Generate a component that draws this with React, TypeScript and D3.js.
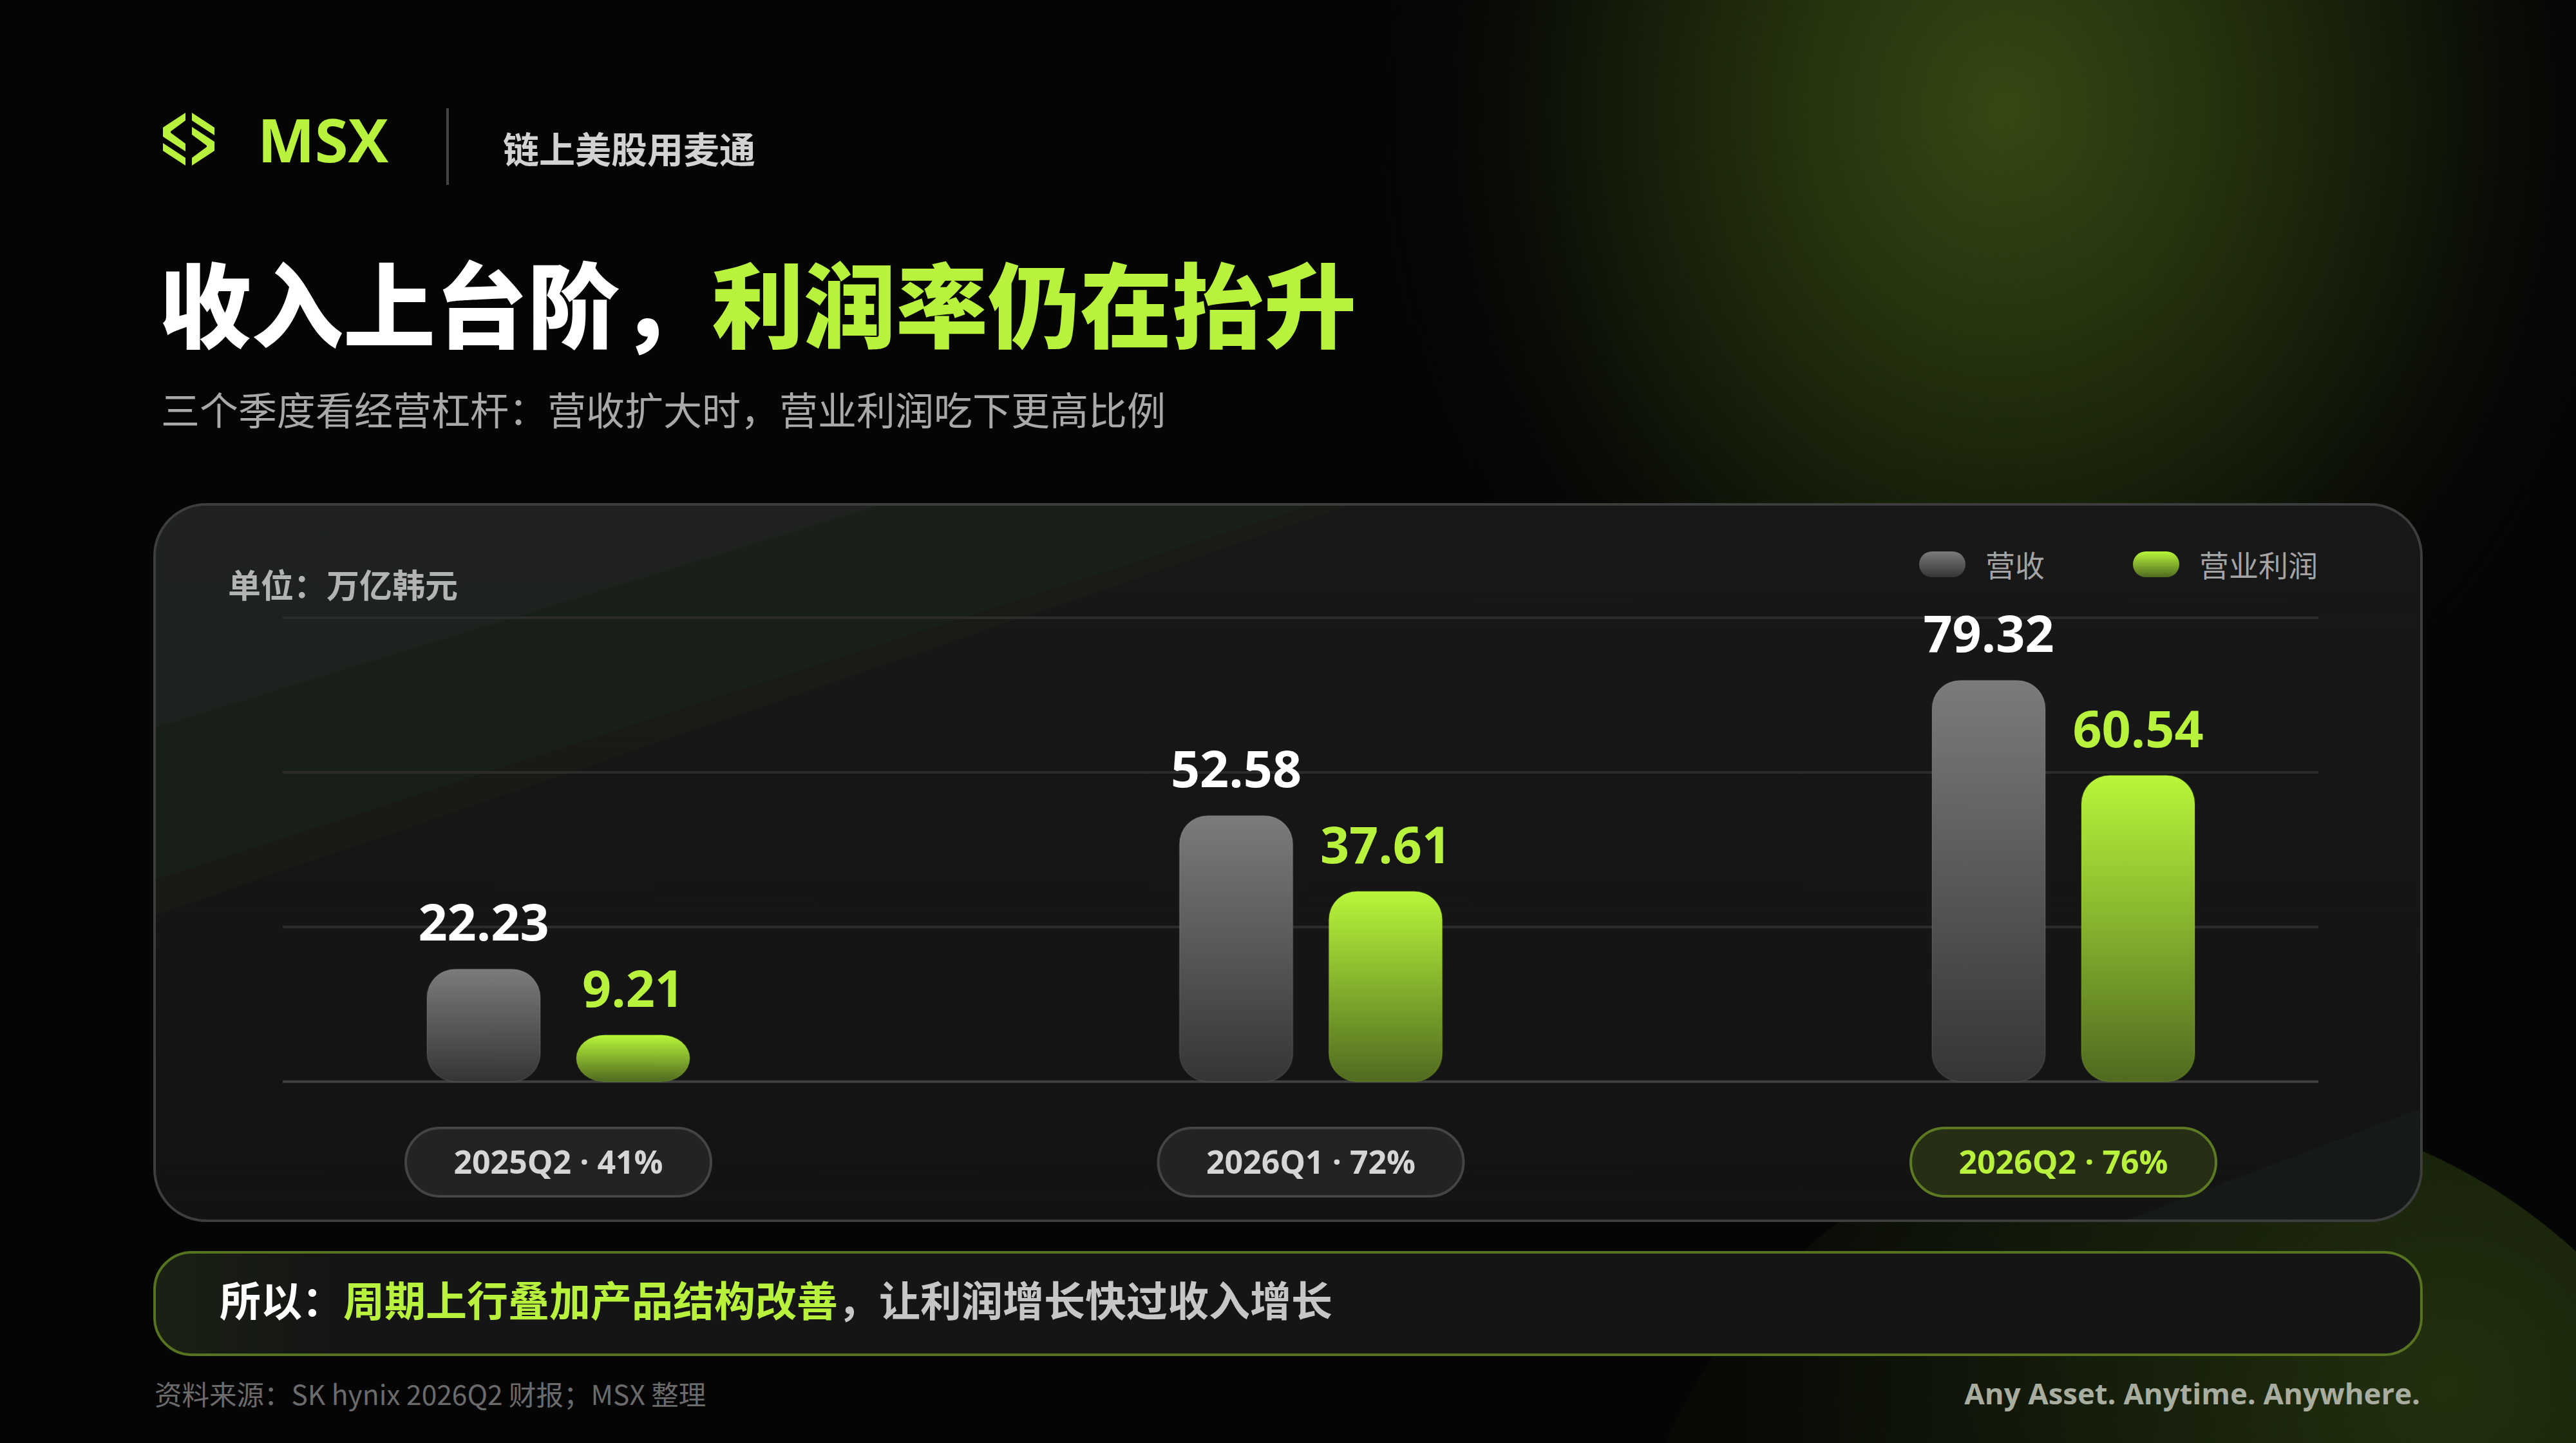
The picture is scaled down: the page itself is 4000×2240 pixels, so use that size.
import * as d3 from 'd3';

// quarters, values (万亿韩元) and margin labels
const categories = ['2025Q2', '2026Q1', '2026Q2'];
const revenue = [22.23, 52.58, 79.32];
const profit = [9.21, 37.61, 60.54];
const marginLabels = ['41%', '72%', '76%'];
const seriesNames = ['营收', '营业利润'];

const W = 4000;
const H = 2240;
const LIME = '#B8F23C';
const CJK = '"Noto Sans CJK SC", "Noto Sans", sans-serif';
const LATIN = '"Open Sans", "Noto Sans", sans-serif';

// chart frame
const plot = { left: 439, right: 3600, top: 959, bottom: 1679 };
const yMax = 91.7;

const x0 = d3.scalePoint<string>().domain(categories).range([867, 3204]);
const x1 = d3
  .scaleBand<string>()
  .domain(seriesNames)
  .range([-204, 204])
  .paddingInner(56 / 232);
const y = d3.scaleLinear().domain([0, yMax]).range([plot.bottom, plot.top]);
const gridValues = d3.range(4).map((i) => (yMax * i) / 3);

// logo pieces (left half), right half is point-mirrored
const logoLeft = [
  [[35, 0], [0, 23], [0, 37], [35, 60], [35, 48], [12, 31], [12, 29], [35, 12]],
  [[0, 47], [35, 70], [35, 82], [0, 59]],
];
const logoPieces = [
  ...logoLeft,
  ...logoLeft.map((poly) => poly.map(([px, py]) => [80 - px, 82 - py])),
];

function Logo() {
  const line = d3.line();
  return (
    <g transform="translate(253,175)">
      {logoPieces.map((p, i) => (
        <path key={i} d={line(p as [number, number][]) + 'Z'} fill={LIME} />
      ))}
    </g>
  );
}

function Bars() {
  const series = [revenue, profit];
  return (
    <g>
      {categories.map((cat, ci) => {
        const cx = x0(cat) as number;
        const hi = ci === categories.length - 1;
        return (
          <g key={cat} transform={`translate(${cx},0)`}>
            {series.map((vals, si) => {
              const v = vals[ci];
              const bx = x1(seriesNames[si]) as number;
              const bw = x1.bandwidth();
              const top = y(v);
              const h = y(0) - top;
              const ry = Math.min(44, h / 2);
              return (
                <g key={si}>
                  <rect
                    x={bx}
                    y={top}
                    width={bw}
                    height={h}
                    rx={si === 0 ? 44 : Math.max(44, ry)}
                    ry={ry}
                    fill={si === 0 ? 'url(#gRev)' : 'url(#gProf)'}
                    stroke={si === 0 ? 'rgba(255,255,255,0.08)' : 'rgba(184,242,60,0.15)'}
                    strokeWidth={2}
                  />
                  <text
                    x={bx + bw / 2}
                    y={top - 44}
                    textAnchor="middle"
                    fontFamily={LATIN}
                    fontWeight={700}
                    fontSize={79}
                    fill={si === 0 ? '#ffffff' : LIME}
                  >
                    {v.toFixed(2)}
                  </text>
                </g>
              );
            })}
            {/* category pill */}
            <rect
              x={-237}
              y={1751}
              width={474}
              height={106}
              rx={53}
              fill={hi ? '#272e16' : '#232323'}
              stroke={hi ? '#5b7a22' : '#444444'}
              strokeWidth={4}
            />
            <text
              x={0}
              y={1822}
              textAnchor="middle"
              fontFamily={LATIN}
              fontWeight={700}
              fontSize={50}
              fill={hi ? LIME : '#d6d6d6'}
            >
              {`${cat} · ${marginLabels[ci]}`}
            </text>
          </g>
        );
      })}
    </g>
  );
}

export default function App() {
  return (
    <svg
      width={W}
      height={H}
      viewBox={`0 0 ${W} ${H}`}
      style={{ position: 'fixed', left: 0, top: 0, display: 'block' }}
    >
      <defs>
        <radialGradient
          id="glowTop"
          gradientUnits="userSpaceOnUse"
          cx={0}
          cy={0}
          r={1000}
          gradientTransform="translate(3114,168) scale(1,1.15)"
        >
          <stop offset="0" stopColor="#364813" />
          <stop offset="0.3" stopColor="#26340f" />
          <stop offset="0.65" stopColor="#111808" />
          <stop offset="1" stopColor="#050505" stopOpacity={0} />
        </radialGradient>
        <radialGradient id="glowBottom" gradientUnits="userSpaceOnUse" cx={3800} cy={2150} r={1100}>
          <stop offset="0" stopColor="#22300f" />
          <stop offset="0.45" stopColor="#161f0b" />
          <stop offset="1" stopColor="#080a06" />
        </radialGradient>
        <linearGradient id="gRev" x1="0" y1="0" x2="0" y2="1">
          <stop offset="0" stopColor="#7b7b7b" />
          <stop offset="1" stopColor="#353535" />
        </linearGradient>
        <linearGradient id="gProf" x1="0" y1="0" x2="0" y2="1">
          <stop offset="0" stopColor="#b9f63a" />
          <stop offset="1" stopColor="#4f6a20" />
        </linearGradient>
        <linearGradient id="gPanel" x1="0" y1="0" x2="0" y2="1">
          <stop offset="0" stopColor="#181818" />
          <stop offset="1" stopColor="#131313" />
        </linearGradient>
        <linearGradient id="gBanner" x1="0" y1="0" x2="1" y2="0">
          <stop offset="0" stopColor="#1a2114" />
          <stop offset="0.08" stopColor="#151515" />
          <stop offset="1" stopColor="#151515" />
        </linearGradient>
        <clipPath id="panelClip">
          <rect x={240} y={783} width={3520} height={1112} rx={80} />
        </clipPath>
      </defs>

      {/* background */}
      <rect width={W} height={H} fill="#050505" />
      <rect width={W} height={H} fill="url(#glowTop)" />
      <circle cx={3400} cy={2600} r={890} fill="url(#glowBottom)" />

      {/* header */}
      <Logo />
      <text x={400} y={252} fontFamily={LATIN} fontWeight={700} fontSize={94} fill={LIME}>
        MSX
      </text>
      <line x1={695} x2={695} y1={168} y2={287} stroke="#444" strokeWidth={4} />
      <text x={781} y={253} fontFamily={CJK} fontWeight={700} fontSize={56} fill="#d2d2d2">
        链上美股用麦通
      </text>

      <text x={247} y={529} fontFamily={CJK} fontWeight={900} fontSize={143}>
        <tspan fill="#ffffff">收入上台阶，</tspan>
        <tspan fill={LIME}>利润率仍在抬升</tspan>
      </text>
      <text x={250} y={660} fontFamily={CJK} fontWeight={400} fontSize={60} fill="#a9a9a9">
        三个季度看经营杠杆：营收扩大时，营业利润吃下更高比例
      </text>

      {/* chart panel */}
      <rect x={240} y={783} width={3520} height={1112} rx={80} fill="url(#gPanel)" />
      <g clipPath="url(#panelClip)">
        <polygon points="240,783 2040,783 240,1366" fill="#1a231b" opacity={0.75} />
        <polygon points="240,783 1370,783 240,1130" fill="#20231f" opacity={0.8} />
        <polygon points="240,1366 240,1420 2100,783 2040,783" fill="#1c1c16" opacity={0.6} />
        <polygon points="3300,1895 3760,1895 3760,1720" fill="#19201a" opacity={0.6} />
      </g>
      <rect
        x={240}
        y={783}
        width={3520}
        height={1112}
        rx={80}
        fill="none"
        stroke="#3d3d3d"
        strokeWidth={4}
      />

      <text x={354} y={928} fontFamily={CJK} fontWeight={700} fontSize={51} fill="#b2b4b1">
        单位：万亿韩元
      </text>

      {/* legend */}
      {seriesNames.map((name, i) => {
        const lx = [2980, 3312][i];
        return (
          <g key={name}>
            <rect
              x={lx}
              y={856}
              width={72}
              height={40}
              rx={20}
              fill={i === 0 ? 'url(#gRev)' : 'url(#gProf)'}
            />
            <text x={lx + 103} y={895} fontFamily={CJK} fontSize={46} fill="#a4a4a4">
              {name}
            </text>
          </g>
        );
      })}

      {/* grid */}
      {gridValues.map((g, i) => (
        <line
          key={i}
          x1={plot.left}
          x2={plot.right}
          y1={y(g)}
          y2={y(g)}
          stroke={i === 0 ? '#3e3e3e' : '#2c2c2c'}
          strokeWidth={4}
        />
      ))}

      <Bars />

      {/* takeaway banner */}
      <rect
        x={240}
        y={1944}
        width={3520}
        height={159}
        rx={58}
        fill="url(#gBanner)"
        stroke="#56731f"
        strokeWidth={4}
      />
      <text x={341} y={2043} fontFamily={CJK} fontWeight={700} fontSize={64}>
        <tspan fill="#ffffff">所以：</tspan>
        <tspan fill={LIME}>周期上行叠加产品结构改善</tspan>
        <tspan fill="#c6c6c6">，让利润增长快过收入增长</tspan>
      </text>

      {/* footer */}
      <text x={240} y={2181} fontFamily={CJK} fontSize={42.5} fill="#6b6b6b">
        资料来源：SK hynix 2026Q2 财报；MSX 整理
      </text>
      <text
        x={3758}
        y={2180}
        textAnchor="end"
        fontFamily={LATIN}
        fontWeight={700}
        fontSize={45.5}
        fill="#a8ad9f"
      >
        Any Asset. Anytime. Anywhere.
      </text>
    </svg>
  );
}
